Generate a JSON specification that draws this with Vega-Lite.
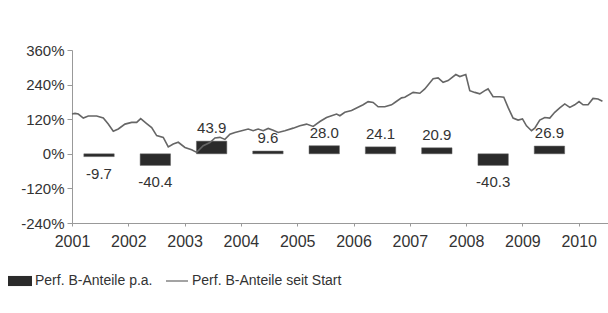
{
  "$schema": "https://vega.github.io/schema/vega-lite/v6.json",
  "width": 536,
  "height": 173,
  "autosize": "none",
  "padding": {"left": 72, "top": 50, "right": 0, "bottom": 90},
  "background": "white",
  "config": {"view": {"stroke": null}, "font": "Liberation Sans"},
  "datasets": {
    "bars": [
      {"from": 2001.21, "to": 2001.75, "v": -9.7, "label": "-9.7"},
      {"from": 2002.21, "to": 2002.75, "v": -40.4, "label": "-40.4"},
      {"from": 2003.21, "to": 2003.75, "v": 43.9, "label": "43.9"},
      {"from": 2004.21, "to": 2004.75, "v": 9.6, "label": "9.6"},
      {"from": 2005.21, "to": 2005.75, "v": 28.0, "label": "28.0"},
      {"from": 2006.21, "to": 2006.75, "v": 24.1, "label": "24.1"},
      {"from": 2007.21, "to": 2007.75, "v": 20.9, "label": "20.9"},
      {"from": 2008.21, "to": 2008.75, "v": -40.3, "label": "-40.3"},
      {"from": 2009.21, "to": 2009.75, "v": 26.9, "label": "26.9"}
    ],
    "line": [
      {"t": 2001.0, "p": 138}, {"t": 2001.053, "p": 140}, {"t": 2001.112, "p": 138},
      {"t": 2001.201, "p": 124}, {"t": 2001.289, "p": 131}, {"t": 2001.438, "p": 131},
      {"t": 2001.556, "p": 124}, {"t": 2001.644, "p": 103}, {"t": 2001.733, "p": 78},
      {"t": 2001.822, "p": 86}, {"t": 2001.941, "p": 103}, {"t": 2002.06, "p": 109},
      {"t": 2002.149, "p": 109}, {"t": 2002.22, "p": 122}, {"t": 2002.326, "p": 105},
      {"t": 2002.415, "p": 91}, {"t": 2002.504, "p": 63}, {"t": 2002.621, "p": 57},
      {"t": 2002.71, "p": 24}, {"t": 2002.798, "p": 34}, {"t": 2002.887, "p": 40},
      {"t": 2003.006, "p": 22}, {"t": 2003.125, "p": 14}, {"t": 2003.214, "p": 5},
      {"t": 2003.331, "p": 28}, {"t": 2003.45, "p": 39}, {"t": 2003.539, "p": 55},
      {"t": 2003.627, "p": 57}, {"t": 2003.716, "p": 50}, {"t": 2003.805, "p": 68},
      {"t": 2003.894, "p": 74}, {"t": 2004.013, "p": 80}, {"t": 2004.13, "p": 86},
      {"t": 2004.218, "p": 80}, {"t": 2004.307, "p": 86}, {"t": 2004.396, "p": 80},
      {"t": 2004.485, "p": 88}, {"t": 2004.573, "p": 82}, {"t": 2004.662, "p": 74},
      {"t": 2004.781, "p": 80}, {"t": 2004.929, "p": 89}, {"t": 2005.048, "p": 97},
      {"t": 2005.166, "p": 103}, {"t": 2005.284, "p": 95}, {"t": 2005.403, "p": 112},
      {"t": 2005.521, "p": 126}, {"t": 2005.61, "p": 132}, {"t": 2005.699, "p": 138},
      {"t": 2005.758, "p": 132}, {"t": 2005.846, "p": 144}, {"t": 2005.965, "p": 150},
      {"t": 2006.054, "p": 159}, {"t": 2006.171, "p": 170}, {"t": 2006.26, "p": 181},
      {"t": 2006.349, "p": 178}, {"t": 2006.437, "p": 163}, {"t": 2006.556, "p": 163},
      {"t": 2006.675, "p": 170}, {"t": 2006.734, "p": 178}, {"t": 2006.853, "p": 194},
      {"t": 2006.911, "p": 196}, {"t": 2007.059, "p": 213}, {"t": 2007.178, "p": 210},
      {"t": 2007.266, "p": 225}, {"t": 2007.414, "p": 260}, {"t": 2007.503, "p": 263},
      {"t": 2007.591, "p": 248}, {"t": 2007.68, "p": 254}, {"t": 2007.817, "p": 275},
      {"t": 2007.888, "p": 268}, {"t": 2007.994, "p": 275}, {"t": 2008.065, "p": 219},
      {"t": 2008.154, "p": 213}, {"t": 2008.243, "p": 208}, {"t": 2008.332, "p": 219},
      {"t": 2008.39, "p": 225}, {"t": 2008.479, "p": 198}, {"t": 2008.598, "p": 198},
      {"t": 2008.669, "p": 196}, {"t": 2008.745, "p": 161}, {"t": 2008.834, "p": 124},
      {"t": 2008.923, "p": 117}, {"t": 2009.001, "p": 121}, {"t": 2009.072, "p": 97},
      {"t": 2009.161, "p": 80}, {"t": 2009.219, "p": 89}, {"t": 2009.308, "p": 117},
      {"t": 2009.397, "p": 126}, {"t": 2009.486, "p": 124}, {"t": 2009.574, "p": 144},
      {"t": 2009.663, "p": 159}, {"t": 2009.752, "p": 173}, {"t": 2009.841, "p": 161},
      {"t": 2009.929, "p": 170}, {"t": 2010.006, "p": 181}, {"t": 2010.077, "p": 170},
      {"t": 2010.166, "p": 170}, {"t": 2010.254, "p": 192}, {"t": 2010.343, "p": 190},
      {"t": 2010.421, "p": 182}
    ]
  },
  "encoding": {
    "x": {
      "type": "quantitative",
      "scale": {"domain": [2001, 2010.52], "nice": false, "zero": false},
      "axis": {
        "values": [2001, 2002, 2003, 2004, 2005, 2006, 2007, 2008, 2009, 2010],
        "format": "d", "title": null, "grid": false,
        "labelFontSize": 16, "labelColor": "#333", "labelPadding": 7,
        "tickSize": 3, "tickColor": "#999", "domainColor": "#999",
        "labelFlush": false, "labelOverlap": false
      }
    },
    "y": {
      "type": "quantitative",
      "scale": {"domain": [-240, 360], "nice": false, "zero": false},
      "axis": {
        "values": [-240, -120, 0, 120, 240, 360],
        "labelExpr": "datum.value + '%'", "title": null, "grid": false,
        "labelFontSize": 15, "labelColor": "#333", "labelPadding": 3,
        "tickSize": 5, "tickColor": "#999", "domainColor": "#999"
      }
    }
  },
  "layer": [
    {
      "data": {"name": "bars"},
      "mark": {"type": "bar", "stroke": "#666", "strokeWidth": 0.5},
      "encoding": {
        "x": {"field": "from", "type": "quantitative"},
        "x2": {"field": "to"},
        "y": {"field": "v", "type": "quantitative"},
        "y2": {"datum": 0},
        "fill": {
          "datum": "Perf. B-Anteile p.a.",
          "scale": {"range": ["#2b2b2b"]},
          "legend": {
            "orient": "none", "legendX": -64, "legendY": 219, "direction": "horizontal",
            "title": null, "padding": 0, "labelFontSize": 14, "labelColor": "#333",
            "labelOffset": 3, "symbolSize": 576,
            "symbolType": "M-1,-0.42H1V0.42H-1Z", "symbolStrokeWidth": 0
          }
        }
      }
    },
    {
      "data": {"name": "line"},
      "mark": {"type": "line", "strokeWidth": 1.6},
      "encoding": {
        "x": {"field": "t", "type": "quantitative"},
        "y": {"field": "p", "type": "quantitative"},
        "stroke": {
          "datum": "Perf. B-Anteile seit Start",
          "scale": {"range": ["#666666"]},
          "legend": {
            "orient": "none", "legendX": 93, "legendY": 219, "direction": "horizontal",
            "title": null, "padding": 0, "labelFontSize": 14, "labelColor": "#333",
            "labelOffset": 3, "symbolSize": 484,
            "symbolType": "stroke", "symbolStrokeWidth": 1.2
          }
        }
      }
    },
    {
      "data": {"name": "bars"},
      "transform": [{"filter": "datum.v >= 0"}, {"calculate": "(datum.from + datum.to) / 2", "as": "mid"}],
      "mark": {"type": "text", "baseline": "bottom", "dy": -5, "fontSize": 15, "color": "#333"},
      "encoding": {
        "x": {"field": "mid", "type": "quantitative"},
        "y": {"field": "v", "type": "quantitative"},
        "text": {"field": "label"}
      }
    },
    {
      "data": {"name": "bars"},
      "transform": [{"filter": "datum.v < 0"}, {"calculate": "(datum.from + datum.to) / 2", "as": "mid"}],
      "mark": {"type": "text", "baseline": "top", "dy": 10, "fontSize": 15, "color": "#333"},
      "encoding": {
        "x": {"field": "mid", "type": "quantitative"},
        "y": {"field": "v", "type": "quantitative"},
        "text": {"field": "label"}
      }
    }
  ]
}
